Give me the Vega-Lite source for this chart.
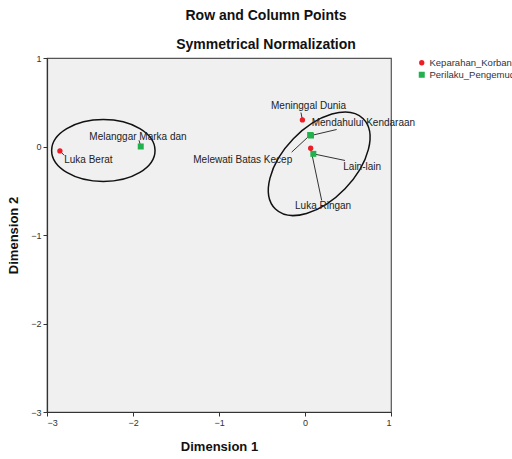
{
  "$schema": "https://vega.github.io/schema/vega-lite/v6.json",
  "autosize": "none",
  "width": 344,
  "height": 354,
  "padding": {"left": 47, "top": 58, "right": 121, "bottom": 47},
  "background": "white",
  "title": {
    "text": "Row and Column Points",
    "subtitle": "Symmetrical Normalization",
    "anchor": "middle",
    "dx": 47,
    "offset": 2,
    "font": "Liberation Sans",
    "fontSize": 14,
    "fontWeight": "bold",
    "color": "#111",
    "subtitleFont": "Liberation Sans",
    "subtitleFontSize": 14,
    "subtitleFontWeight": "bold",
    "subtitleColor": "#111",
    "subtitlePadding": 15
  },
  "config": {
    "view": {"stroke": "#555", "strokeWidth": 1.2, "fill": "#f0f0f0"},
    "axis": {
      "grid": false,
      "domainColor": "#333",
      "domainWidth": 1.2,
      "tickColor": "#333",
      "tickSize": 4,
      "format": "d",
      "labelFont": "Liberation Sans",
      "labelFontSize": 9,
      "labelColor": "#333",
      "labelPadding": 2,
      "titleFont": "Liberation Sans",
      "titleFontSize": 13,
      "titleFontWeight": "bold",
      "titleColor": "#111"
    },
    "legend": {
      "labelFont": "Liberation Sans",
      "labelFontSize": 9.5,
      "labelColor": "#333",
      "padding": 0
    }
  },
  "datasets": {
    "titik": [
      {"Kategori": "Luka Berat", "Grup": "Keparahan_Korban", "Dim1": -2.85, "Dim2": -0.05, "lx": -2.80, "ly": -0.15, "ex": -2.80, "ey": -0.10},
      {"Kategori": "Meninggal Dunia", "Grup": "Keparahan_Korban", "Dim1": -0.03, "Dim2": 0.30, "lx": -0.395, "ly": 0.463, "ex": -0.047, "ey": 0.384},
      {"Kategori": "Luka Ringan", "Grup": "Keparahan_Korban", "Dim1": 0.066, "Dim2": -0.02, "lx": -0.116, "ly": -0.667, "ex": 0.194, "ey": -0.61},
      {"Kategori": "Melanggar Marka dan", "Grup": "Perilaku_Pengemudi", "Dim1": -1.91, "Dim2": 0.0, "lx": -2.508, "ly": 0.105, "ex": -1.93, "ey": 0.07},
      {"Kategori": "Mendahului Kendaraan", "Grup": "Perilaku_Pengemudi", "Dim1": 0.07, "Dim2": 0.124, "lx": 0.078, "ly": 0.263, "ex": 0.368, "ey": 0.192},
      {"Kategori": "Melewati Batas Kecep", "Grup": "Perilaku_Pengemudi", "Dim1": 0.06, "Dim2": 0.13, "lx": -1.299, "ly": -0.147, "ex": -0.155, "ey": -0.064},
      {"Kategori": "Lain-lain", "Grup": "Perilaku_Pengemudi", "Dim1": 0.097, "Dim2": -0.083, "lx": 0.445, "ly": -0.226, "ex": 0.465, "ey": -0.158}
    ],
    "elips": [
      {"Elips": "kiri", "cx": -2.345, "cy": -0.045},
      {"Elips": "kanan", "cx": 0.165, "cy": -0.195}
    ]
  },
  "layer": [
    {
      "data": {"name": "elips"},
      "transform": [{"filter": "datum.Elips === 'kiri'"}],
      "mark": {"type": "point", "filled": false, "stroke": "#111", "strokeWidth": 1.5, "opacity": 1, "size": 10692,
        "shape": "M-1,0C-1,-0.3314,-0.5523,-0.6,0,-0.6C0.5523,-0.6,1,-0.3314,1,0C1,0.3314,0.5523,0.6,0,0.6C-0.5523,0.6,-1,0.3314,-1,0Z"},
      "encoding": {
        "x": {"field": "cx", "type": "quantitative"},
        "y": {"field": "cy", "type": "quantitative"}
      }
    },
    {
      "data": {"name": "elips"},
      "transform": [{"filter": "datum.Elips === 'kanan'"}],
      "mark": {"type": "point", "filled": false, "stroke": "#111", "strokeWidth": 1.5, "opacity": 1, "size": 15876, "angle": 314,
        "shape": "M-1,0C-1,-0.3148,-0.5523,-0.57,0,-0.57C0.5523,-0.57,1,-0.3148,1,0C1,0.3148,0.5523,0.57,0,0.57C-0.5523,0.57,-1,0.3148,-1,0Z"},
      "encoding": {
        "x": {"field": "cx", "type": "quantitative"},
        "y": {"field": "cy", "type": "quantitative"}
      }
    },
    {
      "data": {"name": "titik"},
      "mark": {"type": "rule", "color": "#333", "strokeWidth": 1},
      "encoding": {
        "x": {"field": "Dim1", "type": "quantitative"},
        "y": {"field": "Dim2", "type": "quantitative"},
        "x2": {"field": "ex"},
        "y2": {"field": "ey"}
      }
    },
    {
      "data": {"name": "titik"},
      "mark": {"type": "point", "filled": true, "opacity": 1},
      "encoding": {
        "x": {"field": "Dim1", "type": "quantitative",
          "scale": {"domain": [-3, 1], "nice": false, "zero": false},
          "axis": {"values": [-3, -2, -1, 0, 1], "title": "Dimension 1", "titlePadding": 13}},
        "y": {"field": "Dim2", "type": "quantitative",
          "scale": {"domain": [-3, 1], "nice": false, "zero": false},
          "axis": {"values": [-3, -2, -1, 0, 1], "title": "Dimension 2", "titlePadding": 10}},
        "color": {"field": "Grup", "type": "nominal",
          "scale": {"domain": ["Keparahan_Korban", "Perilaku_Pengemudi"], "range": ["#ee1c25", "#22b14c"]},
          "legend": {"title": null, "orient": "none", "legendX": 370, "legendY": 0, "symbolSize": 30, "labelOffset": 3, "rowPadding": 1}},
        "shape": {"field": "Grup", "type": "nominal",
          "scale": {"domain": ["Keparahan_Korban", "Perilaku_Pengemudi"], "range": ["circle", "square"]}},
        "size": {"field": "Grup", "type": "nominal",
          "scale": {"domain": ["Keparahan_Korban", "Perilaku_Pengemudi"], "range": [28, 36]}, "legend": null}
      }
    },
    {
      "data": {"name": "titik"},
      "mark": {"type": "text", "align": "left", "baseline": "middle", "font": "Liberation Sans", "fontSize": 10, "color": "#222"},
      "encoding": {
        "x": {"field": "lx", "type": "quantitative"},
        "y": {"field": "ly", "type": "quantitative"},
        "text": {"field": "Kategori"}
      }
    }
  ]
}
